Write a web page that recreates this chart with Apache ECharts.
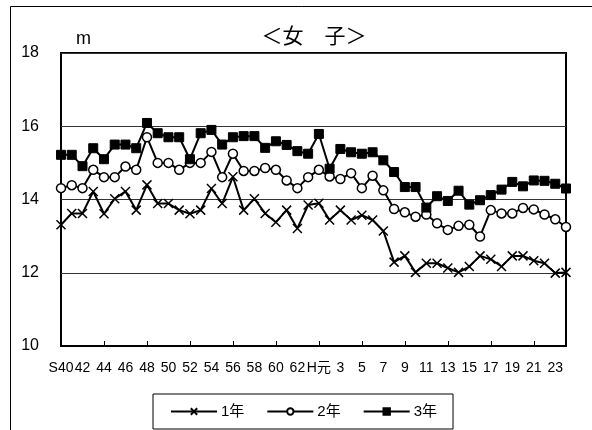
<!DOCTYPE html>
<html><head><meta charset="utf-8">
<script src="https://cdn.jsdelivr.net/npm/echarts@6/dist/echarts.min.js"></script>
<style>html,body{margin:0;padding:0;background:#fff}#c{width:592px;height:430px}</style>
</head><body><div id="c"></div>
<script>
const categories = ['S40','41','42','43','44','45','46','47','48','49','50','51','52','53','54','55','56','57','58','59','60','61','62','63',
  'H元','2','3','4','5','6','7','8','9','10','11','12','13','14','15','16','17','18','19','20','21','22','23','24'];
const grade1 = [13.31,13.62,13.62,14.22,13.61,14.02,14.22,13.71,14.40,13.89,13.89,13.71,13.61,13.71,14.30,13.89,14.62,13.71,14.02,13.62,13.38,13.71,13.21,13.85,
  13.90,13.44,13.71,13.44,13.57,13.44,13.14,12.29,12.46,12.01,12.26,12.26,12.13,12.01,12.17,12.46,12.37,12.17,12.46,12.46,12.33,12.26,11.99,12.01];
const grade2 = [14.31,14.39,14.31,14.81,14.61,14.61,14.90,14.81,15.70,15.00,15.00,14.81,15.00,15.00,15.30,14.61,15.25,14.78,14.78,14.86,14.81,14.52,14.31,14.61,
  14.81,14.63,14.56,14.72,14.31,14.65,14.25,13.74,13.65,13.53,13.59,13.35,13.17,13.28,13.31,12.99,13.71,13.62,13.62,13.77,13.73,13.59,13.46,13.25];
const grade3 = [15.22,15.22,14.91,15.40,15.10,15.50,15.50,15.40,16.09,15.81,15.70,15.70,15.10,15.81,15.90,15.50,15.70,15.73,15.73,15.41,15.59,15.49,15.32,15.25,
  15.79,14.84,15.38,15.29,15.25,15.29,15.07,14.75,14.34,14.34,13.78,14.09,13.96,14.24,13.86,13.98,14.12,14.27,14.48,14.36,14.52,14.51,14.43,14.30];
const seriesNames = ['1年','2年','3年'];
const yTicks = {min:10, max:18, interval:2};

const font = 'Liberation Sans, Noto Sans CJK JP, sans-serif';
const chart = echarts.init(document.getElementById('c'), null, {renderer:'canvas'});
const lineStyle = {color:'#000', width:2};
chart.setOption({
  animation:false,
  backgroundColor:'#fff',
  textStyle:{fontFamily:font, color:'#000'},
  grid:{left:61, right:26, top:53, bottom:84, show:true, borderColor:'#000', borderWidth:2, backgroundColor:'transparent'},
  graphic:[
    {type:'rect', shape:{x:10.5, y:6.5, width:700, height:600}, style:{fill:'none', stroke:'#000', lineWidth:1}, silent:true, z:-1},
    {type:'text', x:76, y:48, style:{text:'m', font:'18px '+font, fill:'#000', textVerticalAlign:'bottom', verticalAlign:'bottom'}},
    {type:'text', x:314, y:35, style:{text:'＜女　子＞', font:'21px Noto Sans CJK JP, sans-serif', fill:'#000', textAlign:'center', align:'center', textVerticalAlign:'middle', verticalAlign:'middle'}}
  ],
  legend:{
    left:153, top:394,
    padding:[10,16,10,17],
    borderColor:'#000', borderWidth:1,
    itemWidth:46, itemHeight:8, itemGap:22,
    textStyle:{fontSize:15, fontFamily:font, color:'#000', padding:[0,0,0,-1]},
    data:seriesNames
  },
  xAxis:{
    type:'category', data:categories, boundaryGap:false,
    axisLine:{show:true, lineStyle:{color:'#000', width:2}},
    axisTick:{show:true, inside:true, interval:3, length:5, lineStyle:{color:'#000'}},
    axisLabel:{interval:1, fontSize:14, color:'#000', margin:15, fontFamily:font},
    splitLine:{show:false}
  },
  yAxis:{
    type:'value', min:yTicks.min, max:yTicks.max, interval:yTicks.interval,
    axisLine:{show:false}, axisTick:{show:false},
    axisLabel:{fontSize:16, color:'#000', margin:22, fontFamily:font},
    splitLine:{show:true, lineStyle:{color:'#333', width:1}}
  },
  series:[
    {name:seriesNames[0], type:'line', data:grade1, showAllSymbol:true, symbol:'path://M0,0L10,10M10,0L0,10', symbolSize:9,
      lineStyle:lineStyle, itemStyle:{color:'#000', borderColor:'#000', borderWidth:1.5}},
    {name:seriesNames[1], type:'line', data:grade2, showAllSymbol:true, symbol:'circle', symbolSize:9,
      lineStyle:lineStyle, itemStyle:{color:'#fff', borderColor:'#000', borderWidth:1.5}},
    {name:seriesNames[2], type:'line', data:grade3, showAllSymbol:true, symbol:'rect', symbolSize:9,
      lineStyle:lineStyle, itemStyle:{color:'#000', borderColor:'#000', borderWidth:1}}
  ]
});
</script></body></html>
